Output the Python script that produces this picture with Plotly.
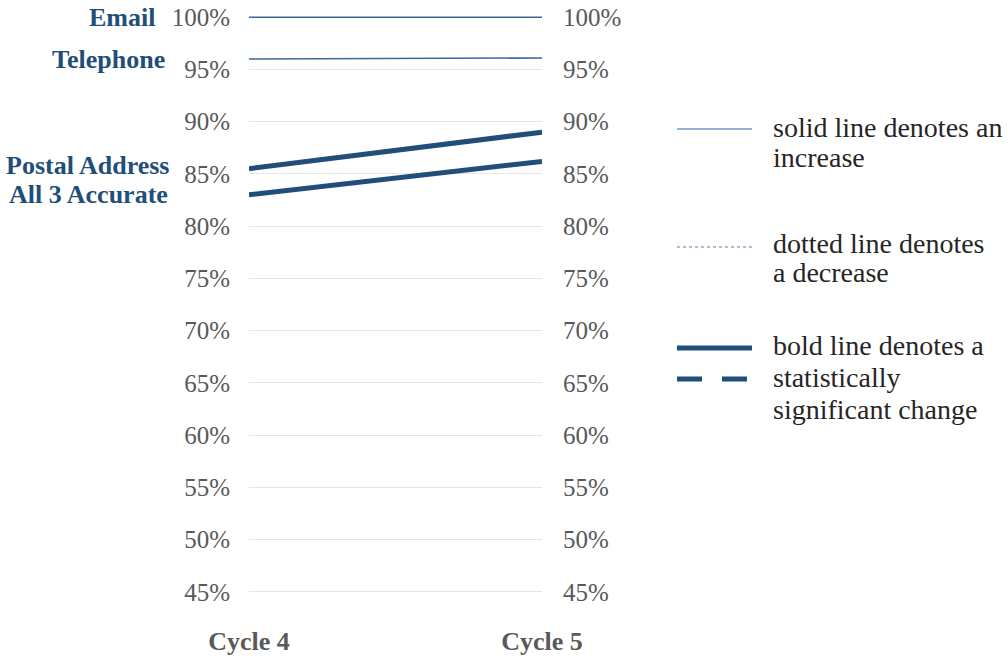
import plotly.graph_objects as go

# ---- data ----
categories = ["Cycle 4", "Cycle 5"]
series_names = ["Email", "Telephone", "Postal Address", "All 3 Accurate"]
email = [100.0, 100.0]
telephone = [96.0, 96.1]
postal_address = [85.5, 89.0]
all_3_accurate = [83.0, 86.2]
y_ticks = [45, 50, 55, 60, 65, 70, 75, 80, 85, 90, 95, 100]
y_tick_labels = [f"{v}%" for v in y_ticks]
legend_lines = [
    ["solid line denotes an", "increase"],
    ["dotted line denotes", "a decrease"],
    ["bold line denotes a", "statistically", "significant change"],
]

# ---- layout geometry ----
W, H = 1008, 658
ML, MR, MT, MB = 249, 466, 12, 61
PW, PH = W - ML - MR, H - MT - MB


def px_x(x):
    return (x - ML) / PW


def px_y(y):
    return (H - MB - y) / PH


DARK = "#1F4E79"
THIN = "#3D6794"
GRID = "#E6E6E6"
TICK = "#595959"
FONT = "Liberation Serif"

xpos = list(range(len(categories)))

fig = go.Figure()
thin_series = [email, telephone]
bold_series = [postal_address, all_3_accurate]
for name, vals in zip(series_names[:2], thin_series):
    fig.add_trace(go.Scatter(x=xpos, y=vals, mode="lines", name=name,
                             line=dict(color=THIN, width=1.6), showlegend=False,
                             hoverinfo="skip"))
for name, vals in zip(series_names[2:], bold_series):
    fig.add_trace(go.Scatter(x=xpos, y=vals, mode="lines", name=name,
                             line=dict(color=DARK, width=5), showlegend=False,
                             hoverinfo="skip"))
# invisible trace to carry the right-hand axis
fig.add_trace(go.Scatter(x=xpos, y=email, mode="lines", yaxis="y2",
                         line=dict(width=0, color="rgba(0,0,0,0)"),
                         showlegend=False, hoverinfo="skip"))

yrange = [44.5, 100.5]
common_y = dict(range=yrange, tickmode="array", tickvals=y_ticks,
                ticktext=y_tick_labels,
                tickfont=dict(family=FONT, size=25, color=TICK),
                zeroline=False, showline=False, ticks="", automargin=False,
                fixedrange=True)

fig.update_layout(
    width=W, height=H,
    margin=dict(l=ML, r=MR, t=MT, b=MB, pad=0),
    paper_bgcolor="white", plot_bgcolor="white",
    xaxis=dict(range=[0, 1], tickmode="array", tickvals=xpos, ticktext=categories,
               tickfont=dict(family=FONT, size=26, color=TICK, weight="bold"),
               showgrid=False, zeroline=False, showline=False, ticks="",
               ticklabelstandoff=26, automargin=False),
    yaxis=dict(**common_y, showgrid=True, gridcolor=GRID, gridwidth=1,
               ticklabelstandoff=18),
    yaxis2=dict(**common_y, overlaying="y", side="right", showgrid=False,
                ticklabelstandoff=20),
)

# series labels on the left
label_shift = [(-92, 0), (-82, 0), (-77, 3), (-79, 0)]
all_series = [email, telephone, postal_address, all_3_accurate]
for name, vals, (xs, ys) in zip(series_names, all_series, label_shift):
    fig.add_annotation(x=0, y=vals[0], xref="paper", yref="y",
                       text=f"<b>{name}</b>", showarrow=False,
                       xanchor="right", yanchor="middle", xshift=xs, yshift=ys,
                       font=dict(family=FONT, size=26, color=DARK))

# legend text
text_rows = [[128, 157], [243, 272], [345, 377, 409]]
for lines, rows in zip(legend_lines, text_rows):
    for t, yy in zip(lines, rows):
        fig.add_annotation(x=px_x(771), y=px_y(yy), xref="paper", yref="paper",
                           text=t, showarrow=False, xanchor="left",
                           yanchor="middle",
                           font=dict(family=FONT, size=28, color="#262626"))

# legend symbols
sym = [
    (129, "#7397C2", 1.6, "solid"),
    (247, "#5A82B0", 1.2, "dot"),
    (348, DARK, 5, "solid"),
    (379, DARK, 5, "25px,20px"),
]
for yy, col, w, dash in sym:
    fig.add_shape(type="line", xref="paper", yref="paper",
                  x0=px_x(677), x1=px_x(752), y0=px_y(yy), y1=px_y(yy),
                  line=dict(color=col, width=w, dash=dash))

fig.write_html("out.html")
